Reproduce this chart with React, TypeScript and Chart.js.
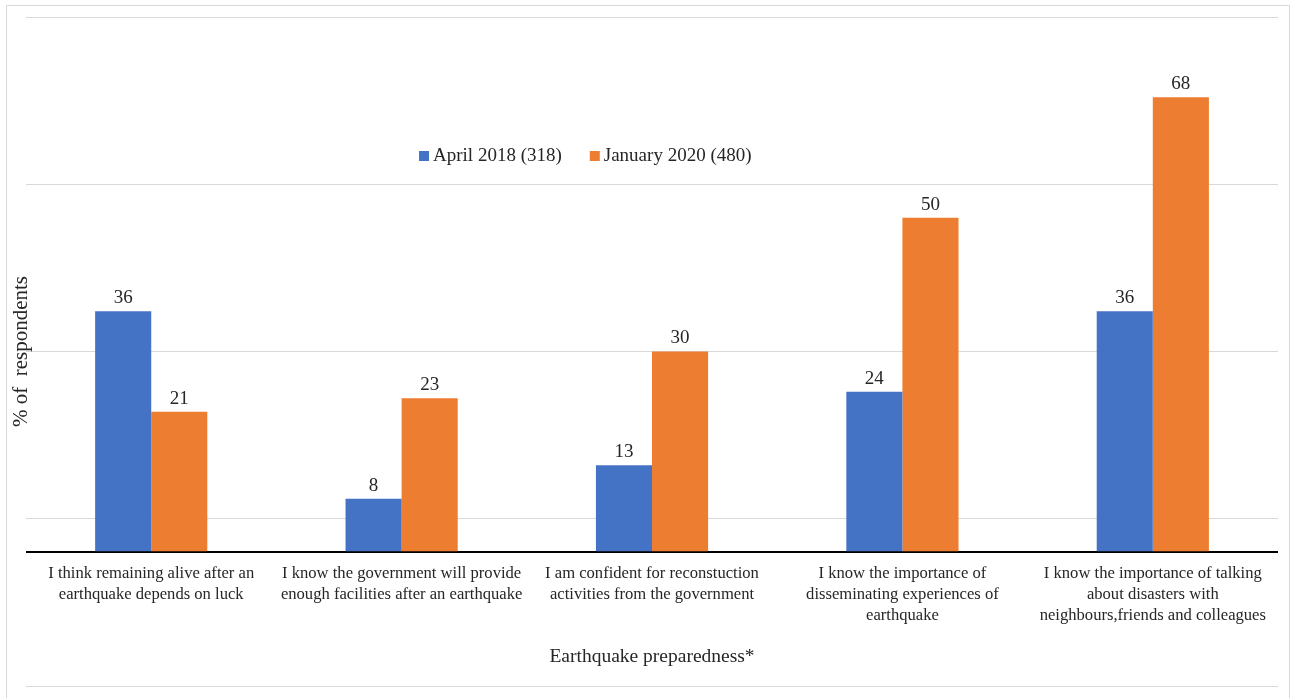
import React, { useEffect, useRef } from 'react';
import { Chart, registerables } from 'chart.js';

Chart.register(...registerables);

const categories: string[][] = [
  ['I think remaining alive after an', 'earthquake depends on luck'],
  ['I know the government will provide', 'enough facilities after an earthquake'],
  ['I am confident for reconstuction', 'activities from the government'],
  ['I know the importance of', 'disseminating experiences of', 'earthquake'],
  ['I know the importance of talking', 'about disasters with', 'neighbours,friends and colleagues'],
];
const april2018 = [36, 8, 13, 24, 36];
const january2020 = [21, 23, 30, 50, 68];
const seriesNames = ['April 2018 (318)', 'January 2020 (480)'];
const seriesColors = ['#4472C4', '#ED7D31'];
const gridValues = [-20, 0, 5, 30, 55, 80];
const yTitle = '% of  respondents';
const xTitle = 'Earthquake preparedness*';

const FONT = "'Liberation Serif', 'Times New Roman', serif";
const TEXT = '#262626';

const framePlugin = {
  id: 'frame',
  beforeDraw(chart: any) {
    const { ctx, width, height } = chart;
    ctx.save();
    ctx.fillStyle = '#ffffff';
    ctx.fillRect(0, 0, width, height);
    ctx.strokeStyle = '#d9d9d9';
    ctx.lineWidth = 1;
    ctx.strokeRect(6.5, 5.5, width - 8, height + 20);
    ctx.restore();
  },
};

const valueLabelPlugin = {
  id: 'valueLabels',
  afterDatasetsDraw(chart: any) {
    const { ctx } = chart;
    ctx.save();
    ctx.font = `19px ${FONT}`;
    ctx.fillStyle = TEXT;
    ctx.textAlign = 'center';
    ctx.textBaseline = 'middle';
    chart.data.datasets.forEach((ds: any, i: number) => {
      const meta = chart.getDatasetMeta(i);
      meta.data.forEach((bar: any, j: number) => {
        ctx.fillText(String(ds.data[j]), bar.x, bar.y - 13);
      });
    });
    ctx.restore();
  },
};

const legendPlugin = {
  id: 'customLegend',
  afterDraw(chart: any) {
    const { ctx, chartArea } = chart;
    ctx.save();
    ctx.font = `19px ${FONT}`;
    ctx.textBaseline = 'middle';
    ctx.textAlign = 'left';
    let x = chartArea.left + 393;
    const y = chartArea.top + 139;
    chart.data.datasets.forEach((ds: any) => {
      ctx.fillStyle = ds.backgroundColor;
      ctx.fillRect(x, y - 5, 10, 10);
      x += 14;
      ctx.fillStyle = TEXT;
      ctx.fillText(ds.label, x, y);
      x += ctx.measureText(ds.label).width + 28;
    });
    ctx.restore();
  },
};

export default function App() {
  const ref = useRef<HTMLCanvasElement | null>(null);

  useEffect(() => {
    if (!ref.current) return;
    const chart = new Chart(ref.current, {
      type: 'bar',
      data: {
        labels: categories,
        datasets: [
          { label: seriesNames[0], data: april2018, backgroundColor: seriesColors[0] },
          { label: seriesNames[1], data: january2020, backgroundColor: seriesColors[1] },
        ],
      },
      options: {
        animation: false,
        responsive: true,
        maintainAspectRatio: false,
        layout: { padding: { left: 14, right: 13, top: 17, bottom: 12 } },
        datasets: { bar: { barPercentage: 1, categoryPercentage: 0.448 } },
        plugins: {
          legend: { display: false },
          tooltip: { enabled: false },
        },
        scales: {
          x: {
            position: { y: 0 } as any,
            grid: { display: false, drawTicks: false },
            border: { display: false },
            ticks: {
              padding: 11,
              color: TEXT,
              maxRotation: 0,
              autoSkip: false,
              font: { family: FONT, size: 16.6, lineHeight: 1.27 },
            },
            title: {
              display: true,
              text: xTitle,
              color: TEXT,
              font: { family: FONT, size: 19.5, lineHeight: 1.2 },
              padding: { top: 8, bottom: 0 },
            },
          },
          y: {
            min: -20,
            max: 80,
            afterBuildTicks: (scale: any) => {
              scale.ticks = gridValues.map((v) => ({ value: v }));
            },
            grid: {
              drawTicks: false,
              color: (c: any) => (c.tick && c.tick.value === 0 ? '#000000' : '#d9d9d9'),
              lineWidth: (c: any) => (c.tick && c.tick.value === 0 ? 2 : 1),
            },
            border: { display: false },
            ticks: { display: false },
            title: {
              display: true,
              text: yTitle,
              color: TEXT,
              font: { family: FONT, size: 21, lineHeight: 0.43 },
              padding: { top: 3, bottom: 0 },
            },
          },
        },
      },
      plugins: [framePlugin, valueLabelPlugin, legendPlugin],
    });
    return () => chart.destroy();
  }, []);

  return (
    <div style={{ position: 'absolute', left: 0, top: 0, width: 1291, height: 698 }}>
      <canvas ref={ref} />
    </div>
  );
}
